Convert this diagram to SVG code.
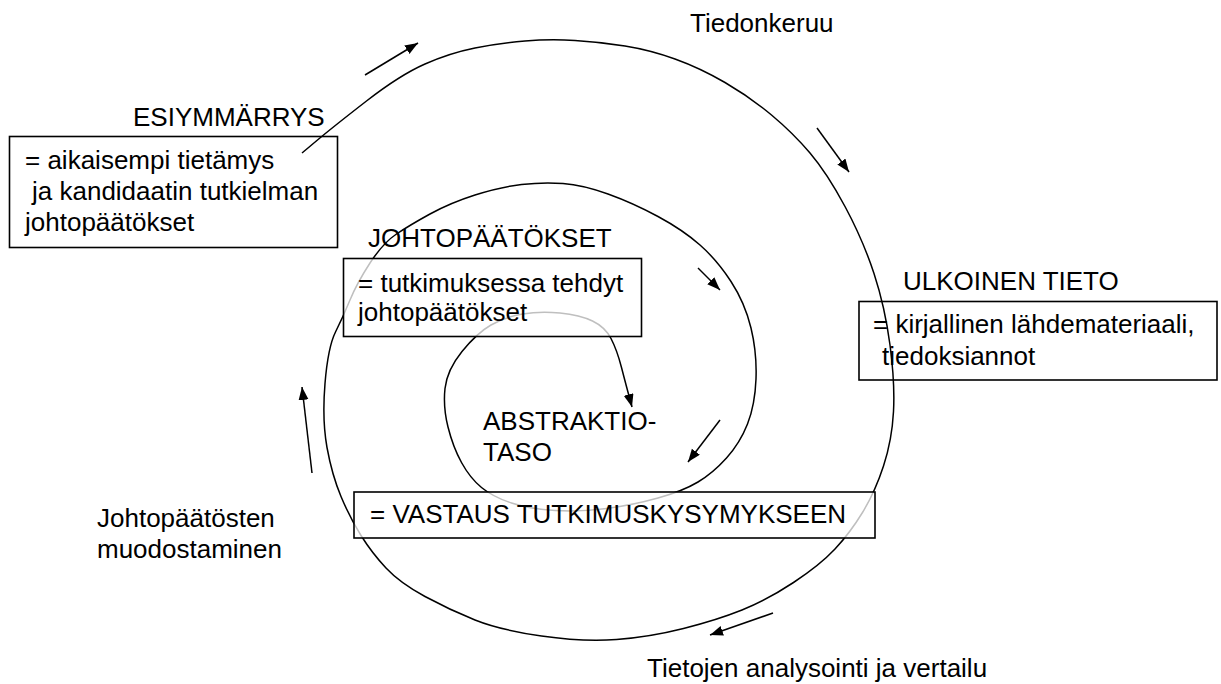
<svg xmlns="http://www.w3.org/2000/svg" width="1221" height="684" viewBox="0 0 1221 684">
<style>
text{font-family:"Liberation Sans",Arial,sans-serif;font-size:26px;fill:#000}
.box{fill:#fff;stroke:#000;stroke-width:1.6}
.veil{fill:#fff;fill-opacity:0.75;stroke:#000;stroke-width:1.6}
.ln{fill:none;stroke:#000;stroke-width:1.5}
</style>
<defs>
<marker id="ah" markerUnits="userSpaceOnUse" markerWidth="14" markerHeight="11" refX="13" refY="5" orient="auto">
<path d="M0,0 L13,5 L0,10 z" fill="#000"/>
</marker>
</defs>
<rect width="1221" height="684" fill="#fff"/>
<g id="esiymmarrys">
<text x="133" y="126">ESIYMMÄRRYS</text>
<rect class="box" x="9.5" y="136.5" width="328" height="111"/>
<text x="25" y="169">= aikaisempi tietämys</text>
<text x="32" y="200">ja kandidaatin tutkielman</text>
<text x="25" y="231">johtopäätökset</text>
</g>
<g id="ulkoinen-tieto">
<text x="903" y="290">ULKOINEN TIETO</text>
<rect class="box" x="859" y="301.5" width="358" height="78.5"/>
<text x="873" y="333">= kirjallinen lähdemateriaali,</text>
<text x="882" y="365">tiedoksiannot</text>
</g>
<g id="connectors">
<path class="ln" marker-end="url(#ah)" d="M302,153 L317.5,140 Q333,127 366.5,101 Q400,75 425,64 Q450,53 475,48 Q500,43 525,41 Q550,39 575,40.5 Q600,42 625,46 Q650,50 675,59 Q700,68 725,82.5 Q750,97 771.5,115 Q793,133 810,153 Q827,173 845,206.5 Q863,240 874,273.5 Q885,307 890,345 Q895,383 893.5,411.5 Q892,440 883.5,466 Q875,492 862.5,512.5 Q850,533 835,549 Q820,565 793.5,582.5 Q767,600 742,610 Q717,620 683.5,628.5 Q650,637 616.5,639.5 Q583,642 541.5,636 Q500,630 475,620 Q450,610 425,596.5 Q400,583 386,568 Q372,553 361,535.5 Q350,518 341,496.5 Q332,475 327,447.5 Q322,420 325,383.5 Q328,347 335.5,332 Q343,317 350,300 Q357,283 370,263 Q383,243 396.5,234 Q410,225 430,214 Q450,203 475,195 Q500,187 521.5,184.5 Q543,182 563,183.5 Q583,185 608,194 Q633,203 658,216.5 Q683,230 700,245 Q717,260 731,281.5 Q745,303 751,328 Q757,353 756,379 Q755,405 747.5,424 Q740,443 726.5,458 Q713,473 698,482 Q683,491 658,498 Q633,505 606.5,508.5 Q580,512 555,510.5 Q530,509 511.5,503 Q493,497 481.5,487.5 Q470,478 461.5,462.5 Q453,447 448,427 Q443,407 445,388.5 Q447,370 462,351.5 Q477,333 491,325 Q505,317 522.5,314 Q540,311 560,313 Q580,315 592.5,321 Q605,327 611,338.5 Q617,350 621.5,367.5 Q626,385 632,407"/>
<line class="ln" marker-end="url(#ah)" x1="365" y1="75" x2="418" y2="43"/>
<line class="ln" marker-end="url(#ah)" x1="817" y1="128" x2="849" y2="172"/>
<line class="ln" marker-end="url(#ah)" x1="698" y1="268" x2="720" y2="290"/>
<line class="ln" marker-end="url(#ah)" x1="720" y1="420" x2="688" y2="462"/>
<line class="ln" marker-end="url(#ah)" x1="773" y1="613" x2="710" y2="635"/>
<line class="ln" marker-end="url(#ah)" x1="312" y1="473" x2="302" y2="387"/>
</g>
<g id="johtopaatokset">
<text x="368" y="247">JOHTOPÄÄTÖKSET</text>
<rect class="veil" x="343.5" y="258.5" width="298" height="78"/>
<text x="358" y="292">= tutkimuksessa tehdyt</text>
<text x="358" y="321">johtopäätökset</text>
</g>
<g id="vastaus">
<rect class="veil" x="354" y="492" width="521" height="46"/>
<text x="370" y="523">= VASTAUS TUTKIMUSKYSYMYKSEEN</text>
</g>
<g id="abstraktiotaso">
<text x="483" y="430">ABSTRAKTIO-</text>
<text x="483" y="461">TASO</text>
</g>
<g id="labels">
<text x="690" y="32">Tiedonkeruu</text>
<text x="97" y="527">Johtopäätösten</text>
<text x="97" y="558">muodostaminen</text>
<text x="647" y="677">Tietojen analysointi ja vertailu</text>
</g>
</svg>
